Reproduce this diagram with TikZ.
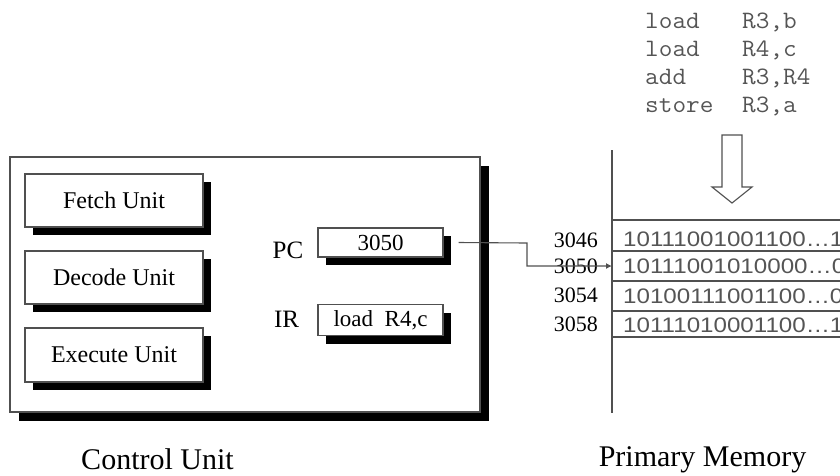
\documentclass[tikz,border=0pt]{standalone}
\usepackage{fontspec}
\setmainfont{Liberation Serif}
\newfontfamily\binfont{Liberation Sans}
\usetikzlibrary{shadows,arrows.meta}
\definecolor{boxgray}{RGB}{80,80,80}
\definecolor{txtgray}{RGB}{85,85,85}
\tikzset{
  unitbox/.style={draw=boxgray, line width=1.1pt, fill=white, inner sep=0pt,
    drop shadow={shadow xshift=8pt, shadow yshift=-8pt, fill=black, opacity=1}},
  outerbox/.style={draw=boxgray, line width=1.1pt, fill=white, inner sep=0pt,
    drop shadow={shadow xshift=9pt, shadow yshift=-9pt, fill=black, opacity=1}},
  unitlbl/.style={font=\fontsize{24}{28}\selectfont},
  reglbl/.style={font=\fontsize{25}{29}\selectfont, anchor=base, inner sep=0pt},
  addr/.style={font=\fontsize{22}{26}\selectfont, anchor=base east, inner sep=0pt},
  bits/.style={font=\binfont\fontsize{21}{25}\selectfont, text=txtgray, anchor=base west, inner sep=0pt},
  code/.style={font=\ttfamily\fontsize{25}{29}\selectfont, text=txtgray, anchor=base west, inner sep=0pt},
  caption/.style={font=\fontsize{30}{34}\selectfont, anchor=base, inner sep=0pt},
  memline/.style={draw=boxgray, line width=1.2pt},
}
\newcommand{\cw}[1]{\scalebox{1.06}[1]{#1}}
\begin{document}
\begin{tikzpicture}[x=1pt,y=-1pt]
\useasboundingbox (0,0) rectangle (840,475);
\clip (0,0) rectangle (840,475);

% control unit
\node[outerbox, minimum width=470pt, minimum height=255pt] (cu) at (245,284.5) {};
\node[unitbox, unitlbl, minimum width=178pt, minimum height=53pt] (fetch) at (114,200.5) {Fetch Unit};
\node[unitbox, unitlbl, minimum width=178pt, minimum height=53pt] (decode) at (114,277.5) {Decode Unit};
\node[unitbox, unitlbl, minimum width=178pt, minimum height=54pt] (exec) at (114,355) {Execute Unit};

\node[reglbl] (pclbl) at (288,258) {PC};
\node[reglbl] (irlbl) at (286.5,327) {IR};
\node[unitbox, font=\fontsize{23}{27}\selectfont, minimum width=125pt, minimum height=29pt] (pc) at (380.5,242.5) {3050};
\node[unitbox, font=\fontsize{23}{27}\selectfont, minimum width=125pt, minimum height=31pt] (ir) at (380.5,320) {load\ \ R4,c};

\node[caption] (culbl) at (157.5,469) {Control Unit};

% program listing
\node[code] (c1a) at (645,28) {\cw{load}};
\node[code] (c1b) at (742,28) {\cw{R3,b}};
\node[code] (c2a) at (645,56) {\cw{load}};
\node[code] (c2b) at (742,56) {\cw{R4,c}};
\node[code] (c3a) at (645,84) {\cw{add}};
\node[code] (c3b) at (742,84) {\cw{R3,R4}};
\node[code] (c4a) at (645,112) {\cw{store}};
\node[code] (c4b) at (742,112) {\cw{R3,a}};

% hollow arrow
\draw[draw=boxgray, line width=1.1pt, fill=white, line join=miter]
  (722,135) -- (742,135) -- (742,187) -- (752,187) -- (732,203) -- (712,187) -- (722,187) -- cycle;

% memory
\draw[memline] (612,150) -- (612,413);
\foreach \yy in {220,251,281,311,337} {
  \draw[memline] (612,\yy) -- (845,\yy);
}
\node[addr] (a1) at (598,247) {3046};
\node[addr] (a2) at (598,273) {3050};
\node[addr] (a3) at (598,302) {3054};
\node[addr] (a4) at (598,331) {3058};
\node[bits] (m1) at (623,246) {\scalebox{1.15}[1]{10111001001100\ldots1}};
\node[bits] (m2) at (623,273) {\scalebox{1.15}[1]{10111001010000\ldots0}};
\node[bits] (m3) at (623,303) {\scalebox{1.15}[1]{10100111001100\ldots0}};
\node[bits] (m4) at (623,332) {\scalebox{1.15}[1]{10111010001100\ldots1}};
\coordinate (row2) at (612,266);

\node[caption] (pmlbl) at (702.5,466) {Primary Memory};

% PC pointer
\coordinate (pcout) at ([xshift=15pt]pc.east);
\coordinate (jog) at (527,243);
\draw[line width=1.1pt, draw=boxgray, -{Latex[length=6pt,width=6pt]}]
  (pcout) -- (jog) |- (row2);
\end{tikzpicture}
\end{document}
